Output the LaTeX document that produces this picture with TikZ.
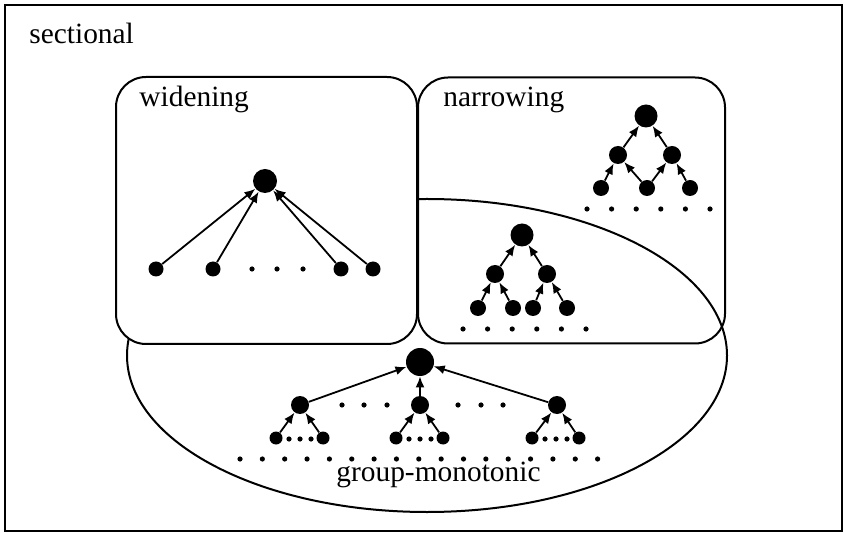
\documentclass[tikz,border=0pt]{standalone}
\usepackage{fontspec}
\setmainfont{Liberation Serif}
\usetikzlibrary{arrows.meta,shapes.geometric}
\begin{document}
\begin{tikzpicture}[x=0.5pt,y=-0.5pt,
  tnode/.style={circle,fill=black,inner sep=0pt,minimum size=#1},
  sdot/.style={circle,fill=black,inner sep=0pt,minimum size=2.6pt},
  arr/.style={-{Latex[length=5.5pt,width=4.5pt]},line width=0.9pt},
  box/.style={draw,line width=1pt,rounded corners=15pt,inner sep=0pt},
  lbl/.style={anchor=base west,inner sep=0pt,font=\fontsize{14.7pt}{17pt}\selectfont}]
\useasboundingbox (0,0) rectangle (844,533);
\node[draw,line width=1pt,inner sep=0pt,minimum width=418.75pt,minimum height=263pt] (outer) at (423.25,268) {};
\node[draw,ellipse,line width=1pt,inner sep=0pt,minimum width=300pt,minimum height=156.5pt] (gm) at (427,355.5) {};
\node[box,fill=white,minimum width=150.5pt,minimum height=133.5pt] (wbox) at (266.5,210.5) {};
\node[box,minimum width=153.5pt,minimum height=133pt] (nbox) at (571.5,210.5) {};
% labels
\node[lbl] (tsec) at (29,44) {sectional};
\node[lbl] (twid) at (139,107) {widening};
\node[lbl] (tnar) at (443,107) {narrowing};
\node[lbl] (tgm) at (336,481) {group-monotonic};
% widening tree
\node[tnode=12pt] (wr) at (265,181) {};
\node[tnode=7.5pt] (wl1) at (156,269) {};
\node[tnode=7.5pt] (wl2) at (213,269) {};
\node[tnode=7.5pt] (wl3) at (341,269) {};
\node[tnode=7.5pt] (wl4) at (373,269) {};
\foreach \x [count=\i] in {252,277,303} \node[sdot] (wd\i) at (\x,269) {};
\foreach \l in {wl1,wl2,wl3,wl4} \draw[arr] (\l) -- (wr);
% narrowing tree
\node[tnode=11.5pt] (nr) at (646,116) {};
\node[tnode=9pt] (nm1) at (618,155) {};
\node[tnode=9pt] (nm2) at (672,155) {};
\node[tnode=8pt] (nl1) at (601,188) {};
\node[tnode=8pt] (nl2) at (647,188) {};
\node[tnode=8pt] (nl3) at (690,188) {};
\draw[arr] (nm1) -- (nr);
\draw[arr] (nm2) -- (nr);
\draw[arr] (nl1) -- (nm1);
\draw[arr] (nl2) -- (nm1);
\draw[arr] (nl2) -- (nm2);
\draw[arr] (nl3) -- (nm2);
\foreach \i in {0,...,5} \node[sdot] (nd\i) at (587+24.6*\i,209) {};
% intersection tree
\node[tnode=11.5pt] (mr) at (522,235) {};
\node[tnode=9pt] (mm1) at (495,274) {};
\node[tnode=9pt] (mm2) at (547,274) {};
\node[tnode=8pt] (ml1) at (478,308) {};
\node[tnode=8pt] (ml2) at (513,308) {};
\node[tnode=8pt] (ml3) at (533,308) {};
\node[tnode=8pt] (ml4) at (567,308) {};
\draw[arr] (mm1) -- (mr);
\draw[arr] (mm2) -- (mr);
\draw[arr] (ml1) -- (mm1);
\draw[arr] (ml2) -- (mm1);
\draw[arr] (ml3) -- (mm2);
\draw[arr] (ml4) -- (mm2);
\foreach \i in {0,...,5} \node[sdot] (md\i) at (463+24.6*\i,329) {};
% group-monotonic tree
\node[tnode=14pt] (gr) at (420,362) {};
\node[tnode=9pt] (gm1) at (300,405) {};
\node[tnode=9pt] (gm2) at (420,405) {};
\node[tnode=9pt] (gm3) at (557,405) {};
\node[tnode=6.5pt] (gl1) at (276,438) {};
\node[tnode=6.5pt] (gl2) at (323,438) {};
\node[tnode=6.5pt] (gl3) at (396,438) {};
\node[tnode=6.5pt] (gl4) at (443,438) {};
\node[tnode=6.5pt] (gl5) at (532,438) {};
\node[tnode=6.5pt] (gl6) at (579,438) {};
\draw[arr] (gm1) -- (gr);
\draw[arr] (gm2) -- (gr);
\draw[arr] (gm3) -- (gr);
\draw[arr] (gl1) -- (gm1);
\draw[arr] (gl2) -- (gm1);
\draw[arr] (gl3) -- (gm2);
\draw[arr] (gl4) -- (gm2);
\draw[arr] (gl5) -- (gm3);
\draw[arr] (gl6) -- (gm3);
\foreach \x [count=\i] in {342,364,387,458,481,503} \node[sdot] (gmd\i) at (\x,405) {};
\foreach \x [count=\i] in {289,300,311,409,420,431,545,556,567} \node[sdot] (gld\i) at (\x,439) {};
\foreach \i in {0,...,16} \node[sdot] (gbd\i) at (240+22.35*\i,459) {};
\end{tikzpicture}
\end{document}
